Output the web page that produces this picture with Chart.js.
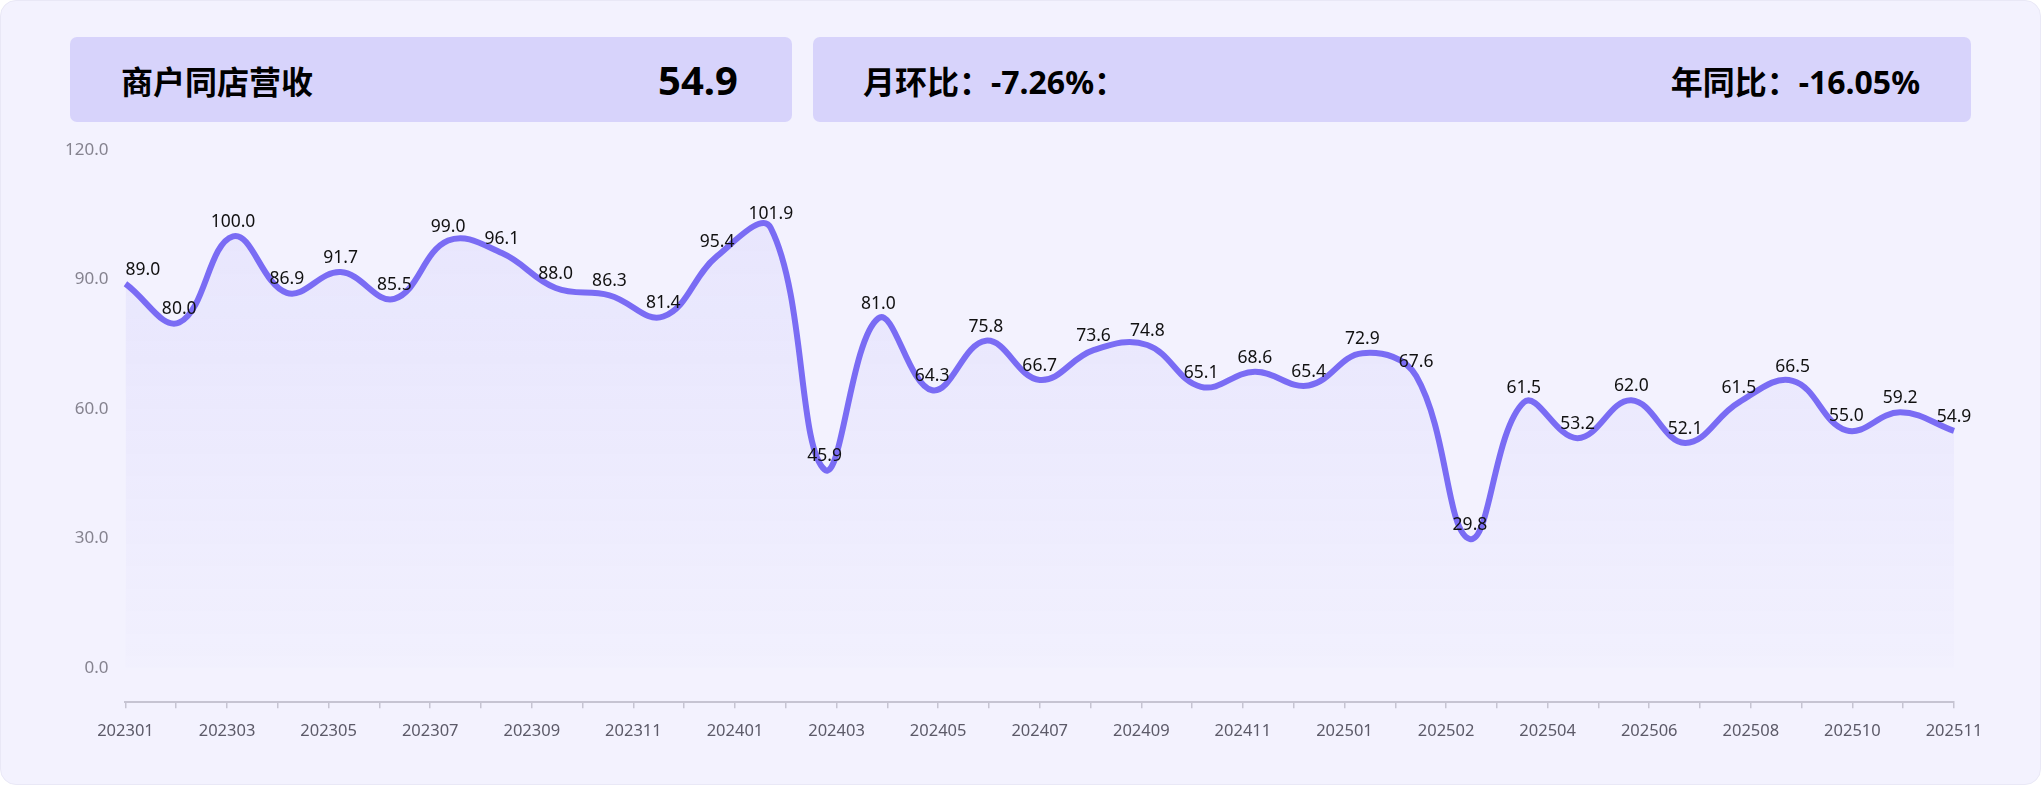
<!DOCTYPE html>
<html lang="zh-CN">
<head>
<meta charset="utf-8">
<title>商户同店营收</title>
<script src="https://cdn.jsdelivr.net/npm/chart.js@4.4.1/dist/chart.umd.min.js"></script>
<style>
  html, body { margin: 0; padding: 0; background: #ffffff; }
  body { width: 2041px; height: 785px; overflow: hidden; position: relative;
         font-family: "Noto Sans", "Noto Sans CJK SC", sans-serif; }
  .panel { position: absolute; left: 0; top: 0; width: 2039px; height: 783px;
           background: #f3f2fe; border: 1px solid #e9e8f6; border-radius: 16px; }
  .card { position: absolute; top: 37px; height: 85px; background: #d7d3fb;
          border-radius: 7px; box-sizing: border-box; display: flex;
          align-items: center; justify-content: space-between;
          font-weight: 700; color: #000; z-index: 2; }
  #cardMain  { left: 70px;  width: 722px;  padding: 0 54px 0 51px; }
  #cardRatio { left: 813px; width: 1158px; padding: 0 51px 0 50px; }
  .title  { font-size: 32px; }
  .big    { font-size: 40px; }
  .ratio  { font-size: 32px; }
  #chartBox { position: absolute; left: 0; top: 0; width: 2041px; height: 785px; z-index: 1; }
</style>
</head>
<body>
<div class="panel"></div>

<div class="card" id="cardMain">
  <span class="title">商户同店营收</span>
  <span class="big">54.9</span>
</div>
<div class="card" id="cardRatio">
  <span class="ratio">月环比：-7.26%：</span>
  <span class="ratio">年同比：-16.05%</span>
</div>

<div id="chartBox"><canvas id="chart"></canvas></div>

<script>
// ---------- Data ----------
const months = [
    "202301", "202302", "202303", "202304", "202305", "202306", "202307", "202308", "202309", "202310", "202311", "202312",
    "202401", "202402", "202403", "202404", "202405", "202406", "202407", "202408", "202409", "202410", "202411", "202412",
    "202501", "202502", "202503", "202504", "202505", "202506", "202507", "202508", "202509", "202510", "202511"
];
const revenue = [
    89.0, 80.0, 100.0, 86.9, 91.7, 85.5, 99.0, 96.1, 88.0, 86.3, 81.4, 95.4,
    101.9, 45.9, 81.0, 64.3, 75.8, 66.7, 73.6, 74.8, 65.1, 68.6, 65.4, 72.9,
    67.6, 29.8, 61.5, 53.2, 62.0, 52.1, 61.5, 66.5, 55.0, 59.2, 54.9
];
// labels printed under the axis (one every other tick mark)
const axisLabels = [
    "202301", "202303", "202305", "202307", "202309", "202311", "202401", "202403", "202405", "202407",
    "202409", "202411", "202501", "202502", "202504", "202506", "202508", "202510", "202511"
];
const yTicks = [0, 30, 60, 90, 120];

// tick marks sit between printed labels too
const axisSlots = axisLabels.flatMap((l, i) => i === 0 ? [l] : ["", l]);

const lineColor = "#7a6cf4";

Chart.defaults.font.family = '"Noto Sans", "Noto Sans CJK SC", sans-serif';

// ---------- Value labels above the line ----------
const valueLabels = {
    id: "valueLabels",
    afterDatasetsDraw(chart) {
        const ctx  = chart.ctx;
        const meta = chart.getDatasetMeta(0);
        ctx.save();
        ctx.font = '17.5px "Noto Sans"';
        ctx.fillStyle = "#111111";
        ctx.textBaseline = "middle";
        meta.data.forEach((pt, i) => {
            ctx.textAlign = i === 0 ? "left" : "center";
            ctx.fillText(revenue[i].toFixed(1), pt.x, pt.y - 14);
        });
        ctx.restore();
    }
};

// ---------- Soft gradient under the line ----------
function areaFill(context) {
    const chart = context.chart;
    const area  = chart.chartArea;
    if (!area) return "rgba(122,108,244,0.08)";
    const zeroY = chart.scales.y.getPixelForValue(0);
    const g = chart.ctx.createLinearGradient(0, area.top, 0, zeroY);
    g.addColorStop(0, "rgba(122,108,244,0.10)");
    g.addColorStop(1, "rgba(122,108,244,0.01)");
    return g;
}

new Chart(document.getElementById("chart"), {
    type: "line",
    data: {
        labels: months,
        datasets: [{
            data: revenue,
            xAxisID: "x",
            yAxisID: "y",
            borderColor: lineColor,
            borderWidth: 6,
            backgroundColor: areaFill,
            fill: "origin",
            tension: 0.4,
            pointRadius: 0,
            pointHoverRadius: 0
        }]
    },
    options: {
        responsive: true,
        maintainAspectRatio: false,
        animation: false,
        layout: { padding: { left: 56, right: 87, top: 150, bottom: 31 } },
        plugins: {
            legend: { display: false },
            tooltip: { enabled: false }
        },
        scales: {
            x: {
                type: "category",
                display: false,
                offset: false
            },
            x2: {
                type: "category",
                position: "bottom",
                labels: axisSlots,
                offset: false,
                grid: {
                    display: true,
                    drawOnChartArea: false,
                    drawTicks: true,
                    tickLength: 6,
                    color: "#c6c4d2",
                    lineWidth: 1.5
                },
                border: { display: true, color: "#c6c4d2", width: 2 },
                ticks: {
                    autoSkip: false,
                    maxRotation: 0,
                    minRotation: 0,
                    padding: 13,
                    color: "#5c5a68",
                    font: { size: 16.5 }
                }
            },
            y: {
                min: -8,
                max: 120,
                afterBuildTicks: scale => { scale.ticks = yTicks.map(v => ({ value: v })); },
                grid: { display: false },
                border: { display: false },
                ticks: {
                    padding: 9,
                    color: "#85838f",
                    font: { size: 17 },
                    callback: v => Number(v).toFixed(1)
                }
            }
        }
    },
    plugins: [valueLabels]
});
</script>
</body>
</html>
